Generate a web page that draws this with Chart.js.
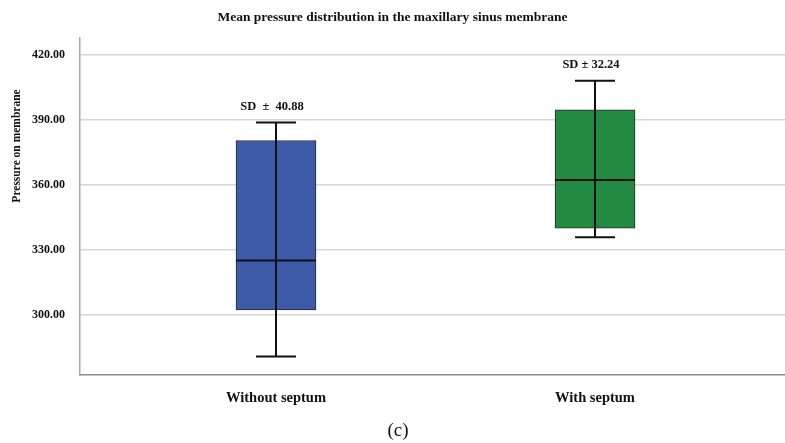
<!DOCTYPE html>
<html>
<head>
<meta charset="utf-8">
<script src="https://cdn.jsdelivr.net/npm/chart.js@4.4.1/dist/chart.umd.min.js"></script>
<style>
  body { margin: 0; background: #fff; }
</style>
</head>
<body>
<canvas id="myChart" width="785" height="443"></canvas>
<script>
// box plot values
var categories = ["Without septum", "With septum"];
var q1 = [302.3, 340.0];
var q3 = [380.5, 394.6];
var medians = [325.1, 362.3];
var mins = [280.8, 335.9];
var maxs = [388.8, 408.1];
var sdLabels = ["SD  \u00b1  40.88", "SD \u00b1 32.24"];
var yTicks = [300, 330, 360, 390, 420];
var boxColors = ["#3c5aa8", "#238a42"];

var serif = "'Liberation Serif', 'Times New Roman', serif";

// medians, whiskers and SD labels drawn on the chart's own scales
var boxExtras = {
  id: "boxExtras",
  afterDatasetsDraw: function (chart) {
    var ctx = chart.ctx;
    var xs = chart.scales.x;
    var ys = chart.scales.y;
    ctx.save();
    ctx.strokeStyle = "#111";
    ctx.lineWidth = 2;
    for (var i = 0; i < categories.length; i++) {
      var x = xs.getPixelForValue(i);
      var yMin = ys.getPixelForValue(mins[i]);
      var yMax = ys.getPixelForValue(maxs[i]);
      var yMed = ys.getPixelForValue(medians[i]);
      ctx.beginPath();
      ctx.moveTo(x, yMin); ctx.lineTo(x, yMax);
      ctx.moveTo(x - 20, yMin); ctx.lineTo(x + 20, yMin);
      ctx.moveTo(x - 20, yMax); ctx.lineTo(x + 20, yMax);
      ctx.moveTo(x - 40, yMed); ctx.lineTo(x + 40, yMed);
      ctx.stroke();

      ctx.fillStyle = "#111";
      ctx.font = "bold 12.5px " + serif;
      ctx.textAlign = "center";
      ctx.textBaseline = "middle";
      ctx.fillText(sdLabels[i], x - 4, yMax - 16);
    }

    // y axis title and panel letter
    ctx.save();
    ctx.translate(17, 146);
    ctx.rotate(-Math.PI / 2);
    ctx.font = "bold 11.5px " + serif;
    ctx.textAlign = "center";
    ctx.textBaseline = "middle";
    ctx.fillText("Pressure on membrane", 0, 0);
    ctx.restore();

    ctx.font = "19px " + serif;
    ctx.textAlign = "center";
    ctx.textBaseline = "middle";
    ctx.fillText("(c)", 398, 431);
    ctx.restore();
  }
};

var chart = new Chart(document.getElementById("myChart").getContext("2d"), {
  type: "bar",
  data: {
    datasets: [
      {
        data: categories.map(function (c, i) { return { x: i, y: [q1[i], q3[i]] }; }),
        backgroundColor: boxColors,
        borderColor: "#2a2a2a",
        borderWidth: 1,
        borderSkipped: false,
        barThickness: 80
      }
    ]
  },
  options: {
    responsive: false,
    animation: false,
    layout: { padding: 0 },
    plugins: {
      legend: { display: false },
      tooltip: { enabled: false },
      title: {
        display: true,
        text: "Mean pressure distribution in the maxillary sinus membrane",
        color: "#111",
        font: { family: serif, size: 13.5, weight: "bold", lineHeight: 1.2 },
        padding: { top: 9, bottom: 12.8 }
      }
    },
    scales: {
      x: {
        type: "linear",
        min: -0.6144,
        max: 1.5956,
        offset: false,
        afterBuildTicks: function (scale) {
          scale.ticks = categories.map(function (c, i) { return { value: i }; });
        },
        afterFit: function (scale) { scale.height = 68; },
        ticks: {
          color: "#111",
          padding: 7,
          font: { family: serif, size: 14.5, weight: "bold" },
          callback: function (v) { return categories[Math.round(v)]; }
        },
        grid: { display: false },
        border: { display: true, color: "#8c8c8c", width: 1.5 }
      },
      y: {
        min: 272.3,
        max: 427.8,
        afterBuildTicks: function (scale) {
          scale.ticks = yTicks.map(function (v) { return { value: v }; });
        },
        afterFit: function (scale) { scale.width = 80; },
        ticks: {
          color: "#111",
          padding: 15,
          font: { family: serif, size: 12, weight: "bold" },
          callback: function (v) { return v.toFixed(2); }
        },
        grid: { color: "#d6d6d6", lineWidth: 1.5, drawTicks: false },
        border: { display: true, color: "#a8a8a8", width: 1.5 }
      }
    }
  },
  plugins: [boxExtras]
});
</script>
</body>
</html>
